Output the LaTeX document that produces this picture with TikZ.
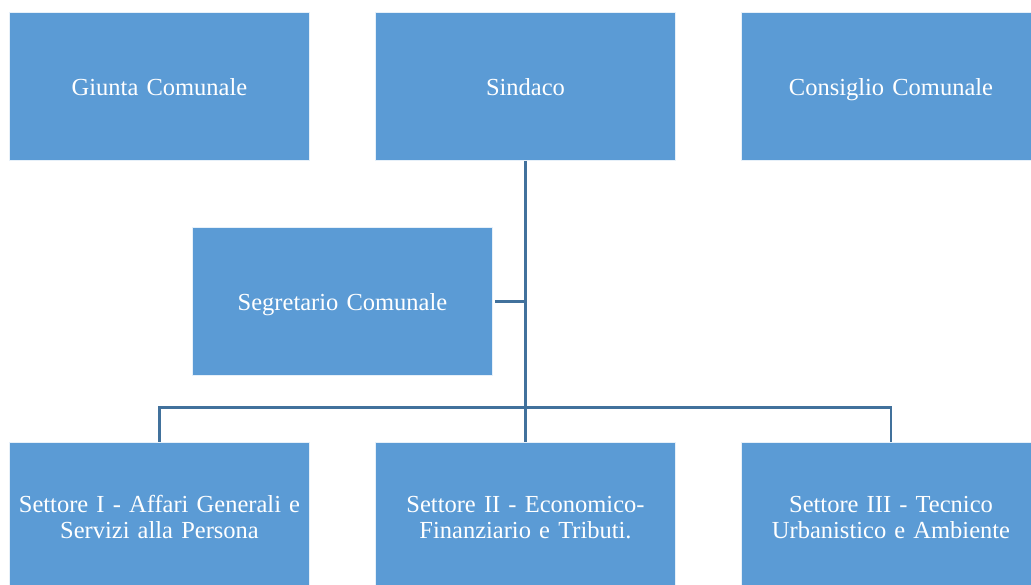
\documentclass[tikz,border=0pt]{standalone}
\usepackage{fontspec}
\setmainfont{Liberation Serif}
\usetikzlibrary{calc}

\definecolor{boxblue}{HTML}{5B9BD5}
\definecolor{lineblue}{HTML}{41719C}

\begin{document}
\begin{tikzpicture}[x=1pt, y=-1pt,
    ufficio/.style={rectangle, fill=boxblue, draw=white!85!boxblue, line width=0.6pt,
        minimum width=300pt, minimum height=148pt, inner sep=0pt,
        text=white, align=center, text width=294pt, font=\fontsize{24.5}{26}\selectfont,
        execute at begin node=\rule{0pt}{26pt}, execute at end node=\rule[-7.8pt]{0pt}{7.8pt}},
    linea/.style={draw=lineblue, line width=2.6pt}]
                \useasboundingbox (0,0) rectangle (1031,584);
                \clip (0,0) rectangle (1031,584);
                \node[ufficio] (giunta)     at (159.5,86.5) {Giunta Comunale};
                \node[ufficio] (sindaco)    at (525.5,86.5) {Sindaco};
                \node[ufficio] (consiglio)  at (891,86.5) {Consiglio Comunale};
                \node[ufficio] (segretario) at (342.5,301.5) {Segretario Comunale};
                \node[ufficio] (settore1)   at (159.5,516) {Settore I - Affari Generali e\\Servizi alla Persona};
                \node[ufficio] (settore2)   at (525.5,516) {Settore II - Economico-\\Finanziario e Tributi.};
                \node[ufficio] (settore3)   at (891,516) {Settore III - Tecnico\\Urbanistico e Ambiente};
                \coordinate (bus) at ($(settore2.north)+(0,-34)$);
                \draw[linea] (sindaco.south) -- (settore2.north);
                \draw[linea] (settore1.north) |- (bus) -| (settore3.north);
                \draw[linea] ($(segretario.east)+(2,0)$) -- (segretario.east -| sindaco.south);
            \end{tikzpicture}
\end{document}
